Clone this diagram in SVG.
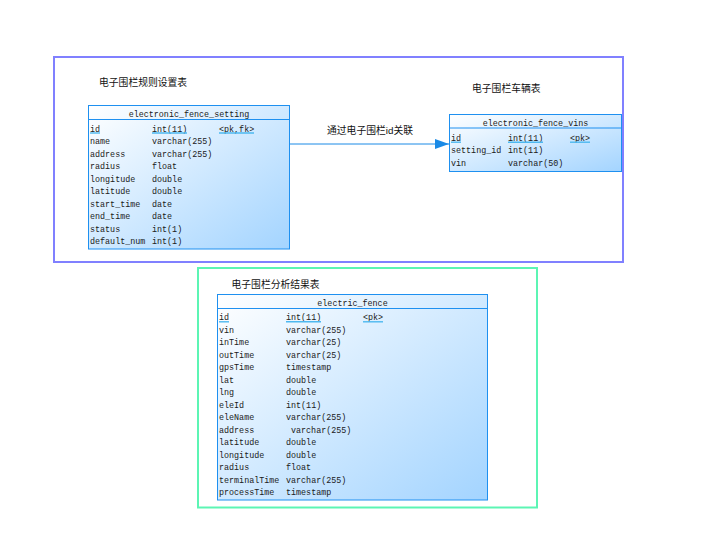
<svg xmlns="http://www.w3.org/2000/svg" width="713" height="559" viewBox="0 0 713 559">
<style>
.t{font-family:"Liberation Mono","DejaVu Sans Mono",monospace;font-size:8.4px;fill:#1a1a1a}
.h{font-family:"Liberation Mono","DejaVu Sans Mono",monospace;font-size:8.4px;fill:#1a1a1a;text-anchor:middle}
.cn{font-family:"Liberation Sans","Noto Sans CJK SC",sans-serif;font-size:9.8px;fill:#111}
.tb{fill:url(#g);stroke:#1e90f0;stroke-width:1}
.sep{stroke:#1e90f0;stroke-width:1}
.ul{stroke:#4db8f0;stroke-width:1.4}
</style>
<defs>
<linearGradient id="g" x1="0" y1="0" x2="1" y2="1">
<stop offset="0" stop-color="#ffffff"/>
<stop offset="1" stop-color="#a3d4ff"/>
</linearGradient>
<marker id="arr" markerWidth="14" markerHeight="10" refX="14" refY="5" orient="auto" markerUnits="userSpaceOnUse">
<path d="M0,0 L14,5 L0,10 Z" fill="#1a8ae6"/>
</marker>
</defs>
<rect width="713" height="559" fill="#ffffff"/>
<g id="group-setting">
<rect x="54" y="57" width="569" height="205" fill="none" stroke="#8080ff" stroke-width="2"/>
<text class="cn" x="99" y="85.5">电子围栏规则设置表</text>
<text class="cn" x="472" y="91.5">电子围栏车辆表</text>
</g>
<g id="group-result">
<rect x="198" y="268" width="339" height="239.5" fill="none" stroke="#5cf5b4" stroke-width="2"/>
<text class="cn" x="231.5" y="287.5">电子围栏分析结果表</text>
</g>
<g id="connectors">
<line x1="289.5" y1="144" x2="449" y2="144" stroke="#1a8ae6" stroke-width="1" marker-end="url(#arr)"/>
<text class="cn" x="327" y="134">通过电子围栏id关联</text>
</g>
<g id="electronic_fence_setting">
<rect class="tb" x="88.5" y="105.5" width="201" height="143.5"/>
<line class="sep" x1="88.5" y1="119.5" x2="289.5" y2="119.5"/>
<text class="h" x="189" y="116.5">electronic_fence_setting</text>
<text class="t" x="90" y="131.5">id</text><text class="t" x="152" y="131.5">int(11)</text><text class="t" x="219" y="131.5">&lt;pk,fk&gt;</text>
<line class="ul" x1="90" y1="133" x2="100" y2="133"/><line class="ul" x1="152" y1="133" x2="187" y2="133"/><line class="ul" x1="219" y1="133" x2="254" y2="133"/>
<text class="t" x="90" y="144">name</text><text class="t" x="152" y="144">varchar(255)</text>
<text class="t" x="90" y="156.5">address</text><text class="t" x="152" y="156.5">varchar(255)</text>
<text class="t" x="90" y="169">radius</text><text class="t" x="152" y="169">float</text>
<text class="t" x="90" y="181.5">longitude</text><text class="t" x="152" y="181.5">double</text>
<text class="t" x="90" y="194">latitude</text><text class="t" x="152" y="194">double</text>
<text class="t" x="90" y="206.5">start_time</text><text class="t" x="152" y="206.5">date</text>
<text class="t" x="90" y="219">end_time</text><text class="t" x="152" y="219">date</text>
<text class="t" x="90" y="231.5">status</text><text class="t" x="152" y="231.5">int(1)</text>
<text class="t" x="90" y="244">default_num</text><text class="t" x="152" y="244">int(1)</text>
</g>
<g id="electronic_fence_vins">
<rect class="tb" x="449.5" y="114.5" width="172" height="57"/>
<line class="sep" x1="449.5" y1="128" x2="621.5" y2="128"/>
<text class="h" x="535.5" y="125.5">electronic_fence_vins</text>
<text class="t" x="451" y="140.7">id</text><text class="t" x="508" y="140.7">int(11)</text><text class="t" x="570" y="140.7">&lt;pk&gt;</text>
<line class="ul" x1="451" y1="142.2" x2="461" y2="142.2"/><line class="ul" x1="508" y1="142.2" x2="543" y2="142.2"/><line class="ul" x1="570" y1="142.2" x2="590" y2="142.2"/>
<text class="t" x="451" y="153.2">setting_id</text><text class="t" x="508" y="153.2">int(11)</text>
<text class="t" x="451" y="165.7">vin</text><text class="t" x="508" y="165.7">varchar(50)</text>
</g>
<g id="electric_fence">
<rect class="tb" x="217.5" y="294.5" width="270" height="205.5"/>
<line class="sep" x1="217.5" y1="308.5" x2="487.5" y2="308.5"/>
<text class="h" x="352.5" y="305.5">electric_fence</text>
<text class="t" x="219" y="320.3">id</text><text class="t" x="286" y="320.3">int(11)</text><text class="t" x="363" y="320.3">&lt;pk&gt;</text>
<line class="ul" x1="219" y1="321.8" x2="229" y2="321.8"/><line class="ul" x1="286" y1="321.8" x2="321" y2="321.8"/><line class="ul" x1="363" y1="321.8" x2="383" y2="321.8"/>
<text class="t" x="219" y="332.8">vin</text><text class="t" x="286" y="332.8">varchar(255)</text>
<text class="t" x="219" y="345.3">inTime</text><text class="t" x="286" y="345.3">varchar(25)</text>
<text class="t" x="219" y="357.8">outTime</text><text class="t" x="286" y="357.8">varchar(25)</text>
<text class="t" x="219" y="370.3">gpsTime</text><text class="t" x="286" y="370.3">timestamp</text>
<text class="t" x="219" y="382.8">lat</text><text class="t" x="286" y="382.8">double</text>
<text class="t" x="219" y="395.3">lng</text><text class="t" x="286" y="395.3">double</text>
<text class="t" x="219" y="407.8">eleId</text><text class="t" x="286" y="407.8">int(11)</text>
<text class="t" x="219" y="420.3">eleName</text><text class="t" x="286" y="420.3">varchar(255)</text>
<text class="t" x="219" y="432.8">address</text><text class="t" x="291" y="432.8">varchar(255)</text>
<text class="t" x="219" y="445.3">latitude</text><text class="t" x="286" y="445.3">double</text>
<text class="t" x="219" y="457.8">longitude</text><text class="t" x="286" y="457.8">double</text>
<text class="t" x="219" y="470.3">radius</text><text class="t" x="286" y="470.3">float</text>
<text class="t" x="219" y="482.8">terminalTime</text><text class="t" x="286" y="482.8">varchar(255)</text>
<text class="t" x="219" y="495.3">processTime</text><text class="t" x="286" y="495.3">timestamp</text>
</g>
</svg>
